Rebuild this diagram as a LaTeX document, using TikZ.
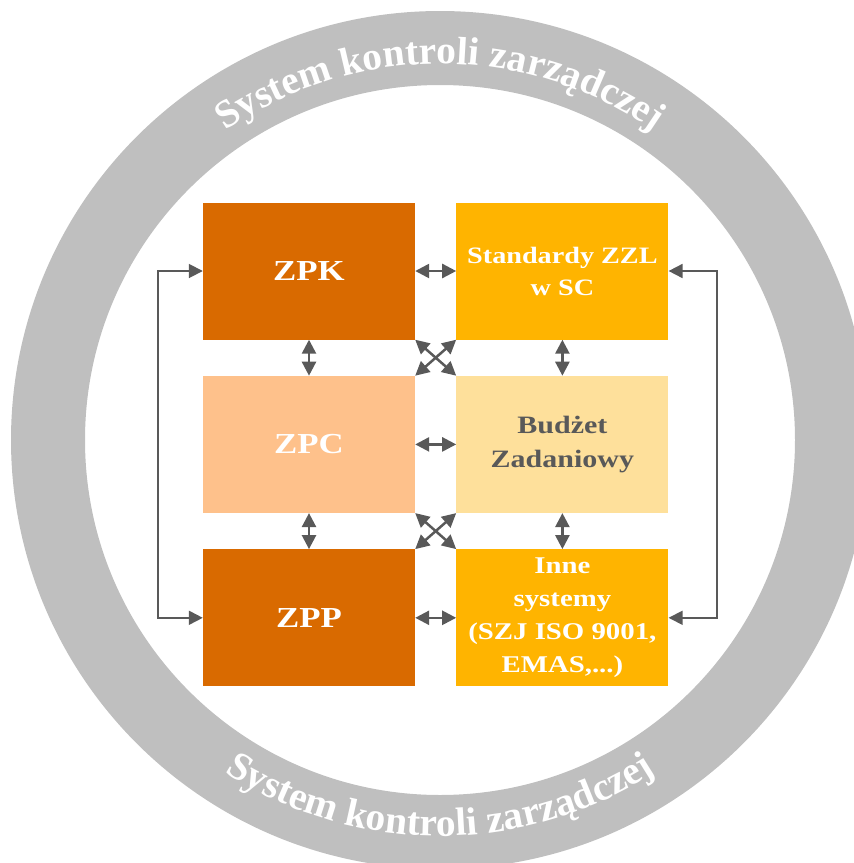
\documentclass[tikz,border=0pt]{standalone}
\usepackage{fontspec}
\setmainfont{Liberation Serif}
\newfontfamily\boxfont[FakeStretch=1.2]{Liberation Serif}
\usetikzlibrary{positioning,arrows.meta,decorations.text}
\definecolor{ringgray}{HTML}{BFBFBF}
\definecolor{darkorange}{HTML}{D96A00}
\definecolor{amber}{HTML}{FFB400}
\definecolor{peach}{HTML}{FEC18B}
\definecolor{cream}{HTML}{FEE09B}
\definecolor{arrowgray}{HTML}{595959}

\begin{document}
\begin{tikzpicture}[x=1pt,y=-1pt,node distance=36pt and 41pt,
    box/.style={minimum width=212pt,minimum height=137pt,inner sep=0pt,align=center,text=white,
      font=\boxfont\bfseries\fontsize{25}{34}\selectfont},
    bigbox/.style={box,font=\boxfont\bfseries\fontsize{29}{34}\selectfont},
    smallbox/.style={box,font=\boxfont\bfseries\fontsize{23.5}{32}\selectfont},
    link/.style={arrowgray,line width=2.5pt,{Triangle[length=14pt,width=14pt]}-{Triangle[length=14pt,width=14pt]}},
    sidelink/.style={link,line width=1.8pt},
    ringtext/.style={decorate,decoration={text along path,text align=center,text color=white,
      text={|\bfseries\fontsize{39.5}{42}\selectfont|System kontroli zarządczej}}}]
    \useasboundingbox (0,0) rectangle (854,863);
    \clip (0,0) rectangle (854,863);
    % ring
    \fill[ringgray,even odd rule] (440,440) circle (429pt) (440,440) circle (355pt);
    \path[ringtext] (440,440) ++(150:376pt) arc[start angle=150,end angle=30,radius=376pt];
    \path[ringtext] (440,440) ++(210:396pt) arc[start angle=210,end angle=330,radius=396pt];
    % boxes
    \node[bigbox,fill=darkorange] (zpk) at (309,271) {ZPK};
    \node[smallbox,fill=amber,right=of zpk] (szzl) {Standardy ZZL\\w SC};
    \node[bigbox,fill=peach,below=of zpk] (zpc) {ZPC};
    \node[box,fill=cream,text=arrowgray,right=of zpc] (bz) {Budżet\\Zadaniowy};
    \node[bigbox,fill=darkorange,below=of zpc] (zpp) {ZPP};
    \node[smallbox,fill=amber,right=of zpp,font=\boxfont\bfseries\fontsize{24}{33}\selectfont] (inne) {Inne\\systemy\\(SZJ ISO 9001,\\EMAS,...)};
    % arrows
    \draw[link] (zpk) -- (szzl);
    \draw[link] (zpc) -- (bz);
    \draw[link] (zpp) -- (inne);
    \draw[link] (zpk) -- (zpc);
    \draw[link] (zpc) -- (zpp);
    \draw[link] (szzl) -- (bz);
    \draw[link] (bz) -- (inne);
    \draw[link] (zpk.south east) -- (bz.north west);
    \draw[link] (szzl.south west) -- (zpc.north east);
    \draw[link] (zpc.south east) -- (inne.north west);
    \draw[link] (bz.south west) -- (zpp.north east);
    \draw[sidelink] (zpk.west) -- ++(-45,0) |- (zpp.west);
    \draw[sidelink] (szzl.east) -- ++(48,0) |- (inne.east);
\end{tikzpicture}
\end{document}
